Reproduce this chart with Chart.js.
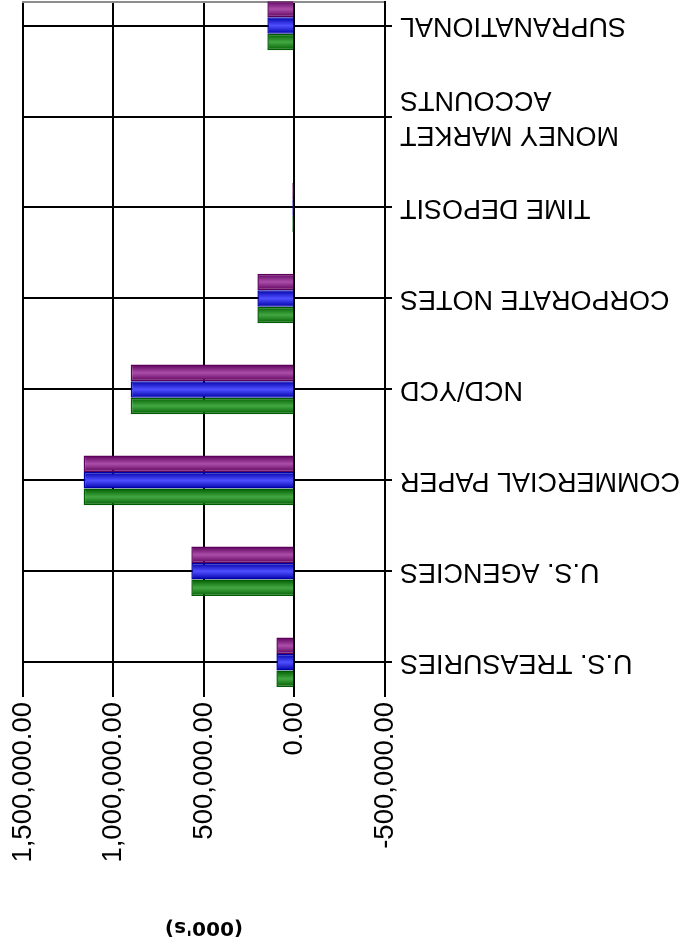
<!DOCTYPE html>
<html>
<head>
<meta charset="utf-8">
<title>Holdings (000's)</title>
<script src="https://cdn.jsdelivr.net/npm/chart.js@4.4.1/dist/chart.umd.min.js"></script>
<style>
  html, body { margin: 0; padding: 0; background: #fff; overflow: hidden; }
  #page { position: relative; width: 687px; height: 943px; overflow: hidden; }
  /* the reference picture is the chart turned upside down, cut off just past the last bar */
  #wrap { position: absolute; left: 0; top: -24px; width: 687px; height: 967px; transform: rotate(180deg); }
</style>
</head>
<body>
<div id="page"><div id="wrap"><canvas id="holdings"></canvas></div></div>
<script>
// categories, top to bottom of the unturned chart
const categories = ['U.S. TREASURIES', 'U.S. AGENCIES', 'COMMERCIAL PAPER', 'NCD/YCD',
    'CORPORATE NOTES', 'TIME DEPOSIT', ['MONEY MARKET', 'ACCOUNTS'], 'SUPRANATIONAL'];

// values in thousands
const seriesGreen  = [100000, 570000, 1165000, 905000, 205000, 12000, 0, 150000];
const seriesBlue   = [100000, 570000, 1165000, 905000, 205000, 12000, 0, 150000];
const seriesPurple = [100000, 570000, 1165000, 905000, 205000, 12000, 0, 150000];

const xTicks = [-500000, 0, 500000, 1000000, 1500000];

// edge / middle / flat shade of each series
const shades = [
    ['#005c00', '#42a842', '#237d23'],
    ['#0000a8', '#4f4fff', '#2a2af2'],
    ['#5c005c', '#aa4eaa', '#86288a']
];

const money = v => v.toLocaleString('en-US', { minimumFractionDigits: 2, maximumFractionDigits: 2 });

function toPoints(values) {
    return values.map((v, i) => ({ x: v, y: i }));
}

// cylinder-ish shading across each bar
const barShading = {
    id: 'barShading',
    beforeDatasetsDraw(chart) {
        const c = chart.ctx;
        chart.data.datasets.forEach((ds, di) => {
            chart.getDatasetMeta(di).data.forEach(bar => {
                const top = bar.y - bar.height / 2;
                const g = c.createLinearGradient(0, top, 0, top + bar.height);
                g.addColorStop(0, shades[di][0]);
                g.addColorStop(0.5, shades[di][1]);
                g.addColorStop(1, shades[di][0]);
                bar.options = Object.assign({}, bar.options, { backgroundColor: g });
            });
        });
    }
};

// value labels, turned so they read the same way as in the picture
const valueLabels = {
    id: 'valueLabels',
    afterDraw(chart) {
        const scale = chart.scales.x;
        const c = chart.ctx;
        c.save();
        c.font = '27.5px "Liberation Sans", Arial, sans-serif';
        c.fillStyle = '#000';
        c.textAlign = 'right';
        c.textBaseline = 'middle';
        scale.ticks.forEach(t => {
            c.save();
            c.translate(scale.getPixelForValue(t.value), scale.bottom - 12);
            c.rotate(Math.PI / 2);
            c.fillText(money(t.value), 0, 0);
            c.restore();
        });
        c.restore();
    }
};

const ctx = document.getElementById('holdings');

var chart = new Chart(ctx, {
    type: 'bar',
    data: {
        datasets: [
            { label: 'Series 1', data: toPoints(seriesGreen), borderColor: shades[0][0], backgroundColor: shades[0][2] },
            { label: 'Series 2', data: toPoints(seriesBlue), borderColor: shades[1][0], backgroundColor: shades[1][2] },
            { label: 'Series 3', data: toPoints(seriesPurple), borderColor: shades[2][0], backgroundColor: shades[2][2] }
        ]
    },
    options: {
        indexAxis: 'y',
        responsive: true,
        maintainAspectRatio: false,
        animation: false,
        layout: { padding: { left: 0, right: 23, top: 0, bottom: 0 } },
        datasets: {
            bar: { barPercentage: 1, categoryPercentage: 0.545, borderWidth: 1.5 }
        },
        plugins: {
            legend: { display: false },
            tooltip: { enabled: false },
            title: { display: false }
        },
        scales: {
            x: {
                type: 'linear',
                position: 'top',
                min: -500000,
                max: 1500000,
                afterBuildTicks: s => { s.ticks = xTicks.map(v => ({ value: v })); },
                afterFit: s => { s.height = 253; },
                title: {
                    display: true,
                    text: "(000's)",
                    color: '#000',
                    font: { family: '"DejaVu Sans", Verdana, sans-serif', size: 20, weight: 'bold' },
                    padding: { top: 4, bottom: 0 }
                },
                ticks: { display: false },
                grid: { color: '#000', lineWidth: 2, tickLength: 7 },
                border: { display: false }
            },
            x2: {
                type: 'linear',
                position: 'bottom',
                afterFit: s => { s.height = 0; },
                ticks: { display: false },
                grid: { display: false },
                border: { display: true, color: '#8c8c8c', width: 2 }
            },
            y: {
                type: 'linear',
                reverse: true,
                offset: false,
                min: -0.305,
                max: 7.264,
                afterBuildTicks: s => { s.ticks = categories.map((c, i) => ({ value: i })); },
                afterFit: s => { s.width = 302; },
                ticks: {
                    autoSkip: false,
                    padding: 8,
                    color: '#000',
                    font: { family: '"Liberation Sans", Arial, sans-serif', size: 27, lineHeight: 1.3 },
                    callback: v => categories[v]
                },
                grid: { offset: false, color: '#000', lineWidth: 2, tickLength: 7 },
                border: { display: true, color: '#000', width: 2 }
            }
        }
    },
    plugins: [barShading, valueLabels]
});
</script>
</body>
</html>
